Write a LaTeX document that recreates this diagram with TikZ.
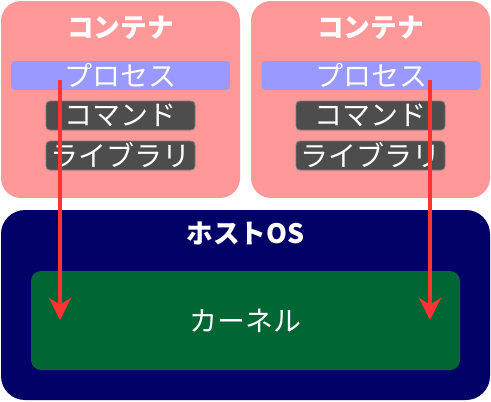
\documentclass[tikz,border=0pt]{standalone}
\usepackage{fontspec}
\setmainfont{Noto Sans CJK JP}
\usetikzlibrary{arrows.meta,positioning}
\definecolor{mypink}{RGB}{255,153,153}
\definecolor{mylavender}{RGB}{153,153,255}
\definecolor{mygray}{RGB}{77,77,77}
\definecolor{mygrayline}{RGB}{120,120,120}
\definecolor{mynavy}{RGB}{0,0,102}
\definecolor{mygreen}{RGB}{0,102,51}
\definecolor{myred}{RGB}{255,51,51}

\begin{document}
\begin{tikzpicture}
    [x=0.75pt,y=-0.75pt,
     container/.style={fill=mypink,rounded corners=15pt,minimum width=179.25pt,minimum height=147.75pt,inner sep=0pt},
     process/.style={fill=mylavender,rounded corners=3pt,minimum width=164.25pt,minimum height=21.75pt,inner sep=0pt,text=white,font=\fontsize{21pt}{21pt}\selectfont},
     part/.style={fill=mygray,draw=mygrayline,line width=0.6pt,rounded corners=3pt,minimum width=111.75pt,minimum height=21.75pt,inner sep=0pt,text=white,font=\fontsize{21pt}{21pt}\selectfont},
     title/.style={text=white,inner sep=0pt,font=\fontsize{20pt}{20pt}\selectfont\bfseries},
     call/.style={myred,line width=3pt,-{Stealth[length=16.5pt,width=16.5pt,inset=5pt]}}]

    % containers
    \node[container] (c1) at (120.5,99.5) {};
    \node[container] (c2) at (370.5,99.5) {};
    \node[title] (c1title) at (120.5,28) {コンテナ};
    \node[title] (c2title) at (370.5,28) {コンテナ};
    \node[process] (p1) at (120.5,75.5) {プロセス};
    \node[process] (p2) at (371,75.5) {プロセス};
    \node[part] (cmd1) at (120.5,115.5) {コマンド};
    \node[part] (cmd2) at (370.5,115.5) {コマンド};
    \node[part] (lib1) at (120.5,155.5) {ライブラリ};
    \node[part] (lib2) at (370.5,155.5) {ライブラリ};

    % host
    \node[fill=mynavy,rounded corners=18pt,minimum width=366.75pt,minimum height=142.5pt] (host) at (245.5,305) {};
    \node[title] (hosttitle) at (245.5,233) {ホストOS};
    \node[fill=mygreen,rounded corners=7.5pt,minimum width=321.75pt,minimum height=74.25pt,inner sep=0pt,text=white,font=\fontsize{21pt}{21pt}\selectfont] (kernel) at (245.5,320.5) {カーネル};

    % system calls
    \coordinate (s1) at (60,80);
    \coordinate (s2) at (430,80);
    \coordinate (k1) at (60,320);
    \coordinate (k2) at (430,320);
    \draw[call] (s1) -- (k1);
    \draw[call] (s2) -- (k2);

    \pgfresetboundingbox
    \useasboundingbox (0,0) rectangle (491,401);
\end{tikzpicture}
\end{document}
